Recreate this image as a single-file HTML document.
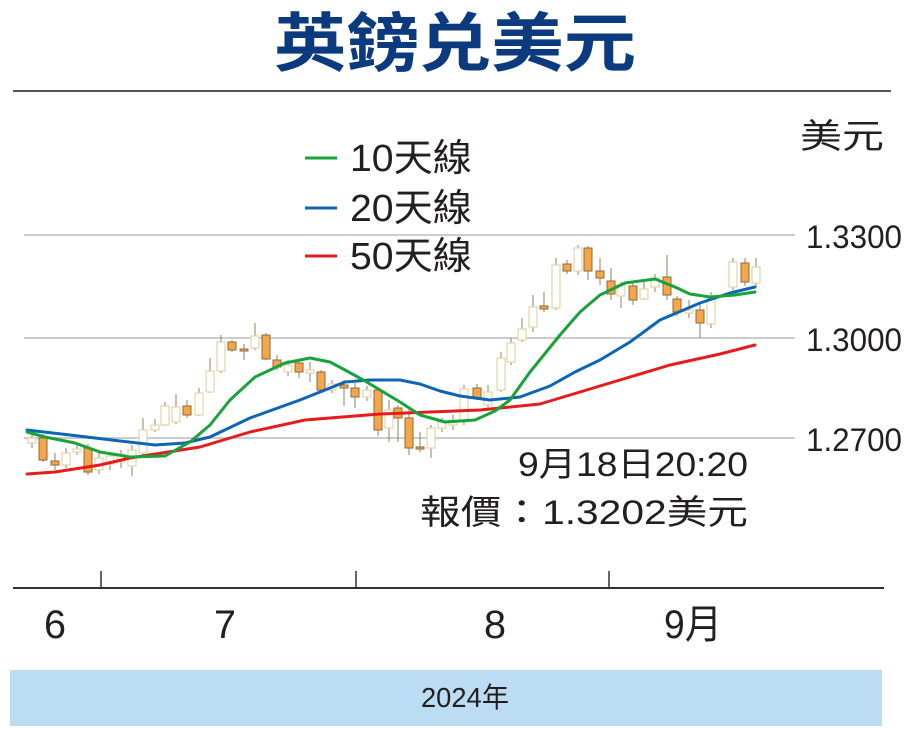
<!DOCTYPE html>
<html><head><meta charset="utf-8"><style>
html,body{margin:0;padding:0;background:#fff;}
svg{display:block;}
text{font-family:"Liberation Sans","Noto Sans CJK TC",sans-serif;fill:#231f20;}
</style></head><body>
<svg width="907" height="730" viewBox="0 0 907 730" xmlns="http://www.w3.org/2000/svg">
<text x="455" y="66" text-anchor="middle" font-size="64" font-weight="bold" style="fill:#0b3a7e" textLength="362" lengthAdjust="spacingAndGlyphs">英鎊兑美元</text>
<line x1="13" y1="91" x2="891" y2="91" stroke="#555" stroke-width="2"/>
<!-- grid -->
<g stroke="#bbb" stroke-width="1.5">
<line x1="24" y1="235" x2="795" y2="235"/>
<line x1="24" y1="338" x2="795" y2="338"/>
<line x1="24" y1="438" x2="795" y2="438"/>
</g>
<text x="800" y="148" font-size="34" textLength="84" lengthAdjust="spacingAndGlyphs">美元</text>
<text x="806" y="248" font-size="32" textLength="96" lengthAdjust="spacingAndGlyphs">1.3300</text>
<text x="806" y="351" font-size="32" textLength="96" lengthAdjust="spacingAndGlyphs">1.3000</text>
<text x="806" y="451" font-size="32" textLength="96" lengthAdjust="spacingAndGlyphs">1.2700</text>
<!-- legend -->
<line x1="305" y1="158" x2="337" y2="158" stroke="#1aa23a" stroke-width="3"/>
<line x1="305" y1="208" x2="337" y2="208" stroke="#0d66b4" stroke-width="3"/>
<line x1="305" y1="256" x2="337" y2="256" stroke="#e41c1c" stroke-width="3"/>
<text x="350" y="171" font-size="38" textLength="122" lengthAdjust="spacingAndGlyphs">10天線</text>
<text x="350" y="221" font-size="38" textLength="122" lengthAdjust="spacingAndGlyphs">20天線</text>
<text x="350" y="269" font-size="38" textLength="122" lengthAdjust="spacingAndGlyphs">50天線</text>
<!-- candles -->
<g stroke="#8a8068" stroke-width="1">
<line x1="32" y1="432" x2="32" y2="448"/><line x1="43" y1="434" x2="43" y2="462"/><line x1="55" y1="453" x2="55" y2="470"/><line x1="66" y1="448" x2="66" y2="468"/><line x1="77" y1="445" x2="77" y2="455"/><line x1="88" y1="444" x2="88" y2="475"/><line x1="99" y1="453" x2="99" y2="474"/><line x1="110" y1="452" x2="110" y2="470"/><line x1="121" y1="450" x2="121" y2="468"/><line x1="132" y1="445" x2="132" y2="476"/><line x1="143" y1="418" x2="143" y2="456"/><line x1="155" y1="419" x2="155" y2="432"/><line x1="165" y1="402" x2="165" y2="426"/><line x1="176" y1="394" x2="176" y2="424"/><line x1="187" y1="400" x2="187" y2="418"/><line x1="199" y1="388" x2="199" y2="416"/><line x1="210" y1="358" x2="210" y2="393"/><line x1="221" y1="335" x2="221" y2="373"/><line x1="232" y1="340" x2="232" y2="352"/><line x1="244" y1="344" x2="244" y2="360"/><line x1="255" y1="323" x2="255" y2="350"/><line x1="266" y1="333" x2="266" y2="360"/><line x1="277" y1="355" x2="277" y2="370"/><line x1="288" y1="360" x2="288" y2="376"/><line x1="299" y1="360" x2="299" y2="378"/><line x1="310" y1="362" x2="310" y2="382"/><line x1="321" y1="370" x2="321" y2="392"/><line x1="332" y1="380" x2="332" y2="393"/><line x1="344" y1="380" x2="344" y2="406"/><line x1="355" y1="383" x2="355" y2="408"/><line x1="367" y1="386" x2="367" y2="401"/><line x1="378" y1="388" x2="378" y2="436"/><line x1="389" y1="400" x2="389" y2="442"/><line x1="398" y1="405" x2="398" y2="442"/><line x1="409" y1="408" x2="409" y2="455"/><line x1="420" y1="432" x2="420" y2="452"/><line x1="431" y1="425" x2="431" y2="458"/><line x1="442" y1="418" x2="442" y2="432"/><line x1="453" y1="415" x2="453" y2="430"/><line x1="464" y1="385" x2="464" y2="425"/><line x1="477" y1="384" x2="477" y2="400"/><line x1="488" y1="385" x2="488" y2="410"/><line x1="501" y1="352" x2="501" y2="392"/><line x1="511" y1="338" x2="511" y2="365"/><line x1="522" y1="318" x2="522" y2="342"/><line x1="533" y1="295" x2="533" y2="332"/><line x1="544" y1="292" x2="544" y2="312"/><line x1="556" y1="258" x2="556" y2="310"/><line x1="567" y1="260" x2="567" y2="274"/><line x1="578" y1="245" x2="578" y2="275"/><line x1="588" y1="246" x2="588" y2="280"/><line x1="600" y1="258" x2="600" y2="285"/><line x1="611" y1="268" x2="611" y2="300"/><line x1="621" y1="282" x2="621" y2="308"/><line x1="633" y1="283" x2="633" y2="305"/><line x1="644" y1="282" x2="644" y2="300"/><line x1="655" y1="274" x2="655" y2="292"/><line x1="667" y1="255" x2="667" y2="300"/><line x1="677" y1="296" x2="677" y2="316"/><line x1="689" y1="300" x2="689" y2="318"/><line x1="700" y1="302" x2="700" y2="338"/><line x1="711" y1="292" x2="711" y2="328"/><line x1="733" y1="258" x2="733" y2="290"/><line x1="745" y1="258" x2="745" y2="286"/><line x1="756" y1="258" x2="756" y2="286"/>
</g>
<g fill="#fff" stroke="#e2d5a8" stroke-width="1.2">
<rect x="28" y="438" width="8" height="5"/><rect x="62" y="453" width="8" height="12"/><rect x="73" y="449" width="8" height="3"/><rect x="95" y="458" width="8" height="12"/><rect x="106" y="456" width="8" height="8"/><rect x="117" y="454" width="8" height="8"/><rect x="128" y="450" width="8" height="16"/><rect x="139" y="430" width="8" height="23"/><rect x="151" y="425" width="8" height="5"/><rect x="161" y="406" width="8" height="19"/><rect x="172" y="407" width="8" height="15"/><rect x="195" y="393" width="8" height="22"/><rect x="206" y="371" width="8" height="21"/><rect x="217" y="342" width="8" height="29"/><rect x="251" y="336" width="8" height="12"/><rect x="284" y="365" width="8" height="7"/><rect x="306" y="370" width="8" height="3"/><rect x="328" y="384" width="8" height="6"/><rect x="363" y="390" width="8" height="7"/><rect x="385" y="410" width="8" height="18"/><rect x="427" y="428" width="8" height="20"/><rect x="438" y="422" width="8" height="6"/><rect x="449" y="420" width="8" height="5"/><rect x="460" y="389" width="8" height="31"/><rect x="484" y="392" width="8" height="13"/><rect x="497" y="358" width="8" height="32"/><rect x="507" y="343" width="8" height="19"/><rect x="518" y="329" width="8" height="11"/><rect x="529" y="307" width="8" height="20"/><rect x="552" y="265" width="8" height="43"/><rect x="574" y="248" width="8" height="23"/><rect x="617" y="285" width="8" height="11"/><rect x="640" y="289" width="8" height="10"/><rect x="651" y="278" width="8" height="9"/><rect x="685" y="310" width="8" height="3"/><rect x="707" y="296" width="8" height="28"/><rect x="729" y="262" width="8" height="25"/><rect x="752" y="267" width="8" height="16"/>
</g>
<g fill="#f5a54a" stroke="#8a6a3a" stroke-width="1">
<rect x="39" y="438" width="8" height="22"/><rect x="51" y="461" width="8" height="4"/><rect x="84" y="448" width="8" height="24"/><rect x="183" y="406" width="8" height="9"/><rect x="228" y="342" width="8" height="8"/><rect x="240" y="349" width="8" height="2"/><rect x="262" y="335" width="8" height="24"/><rect x="273" y="360" width="8" height="7"/><rect x="295" y="363" width="8" height="9"/><rect x="317" y="372" width="8" height="18"/><rect x="340" y="385" width="8" height="3"/><rect x="351" y="388" width="8" height="9"/><rect x="374" y="390" width="8" height="40"/><rect x="394" y="408" width="8" height="10"/><rect x="405" y="418" width="8" height="30"/><rect x="416" y="447" width="8" height="2"/><rect x="473" y="388" width="8" height="10"/><rect x="540" y="306" width="8" height="3"/><rect x="563" y="264" width="8" height="7"/><rect x="584" y="248" width="8" height="23"/><rect x="596" y="271" width="8" height="7"/><rect x="607" y="281" width="8" height="13"/><rect x="629" y="286" width="8" height="14"/><rect x="663" y="277" width="8" height="18"/><rect x="673" y="299" width="8" height="13"/><rect x="696" y="310" width="8" height="13"/><rect x="741" y="263" width="8" height="19"/>
</g>
<!-- MAs -->
<g fill="none" stroke-width="3" stroke-linejoin="round" stroke-linecap="round">
<polyline stroke="#e41c1c" points="27,474 55,472 100,465 130,458 200,447 250,432 305,420 380,414 480,410 540,404 580,392 620,380 670,365 720,354 755,345"/>
<polyline stroke="#0d66b4" points="27,430 70,435 120,441 155,445 185,443 210,437 250,418 300,400 345,382 370,380 400,380 420,384 440,391 460,396 490,400 520,397 550,386 575,372 600,360 630,342 660,320 700,303 730,293 755,287"/>
<polyline stroke="#1aa23a" points="27,432 45,437 60,440 75,443 100,452 130,457 165,456 190,442 210,425 230,400 255,377 285,363 310,358 330,362 345,370 365,381 380,390 400,402 420,415 445,422 475,420 495,411 510,400 530,372 560,335 580,312 600,295 625,283 655,279 675,287 690,294 710,297 735,295 755,292"/>
</g>
<text x="748" y="476" font-size="34" text-anchor="end" textLength="230" lengthAdjust="spacingAndGlyphs">9月18日20:20</text>
<text x="748" y="524" font-size="34" text-anchor="end" textLength="328" lengthAdjust="spacingAndGlyphs">報價：1.3202美元</text>
<!-- x axis -->
<line x1="13" y1="588" x2="884" y2="588" stroke="#333" stroke-width="2"/>
<g stroke="#333" stroke-width="1.5">
<line x1="101" y1="571" x2="101" y2="588"/><line x1="356" y1="571" x2="356" y2="588"/><line x1="609" y1="571" x2="609" y2="588"/>
</g>
<text x="55" y="638" font-size="40" text-anchor="middle" textLength="22" lengthAdjust="spacingAndGlyphs">6</text>
<text x="225" y="638" font-size="40" text-anchor="middle" textLength="22" lengthAdjust="spacingAndGlyphs">7</text>
<text x="495" y="638" font-size="40" text-anchor="middle" textLength="22" lengthAdjust="spacingAndGlyphs">8</text>
<text x="693" y="638" font-size="40" text-anchor="middle" textLength="58" lengthAdjust="spacingAndGlyphs">9月</text>
<rect x="10" y="670" width="872" height="56" fill="#bcdcf3"/>
<text x="465" y="707" font-size="28" text-anchor="middle" textLength="88" lengthAdjust="spacingAndGlyphs">2024年</text>
</svg>
</body></html>
